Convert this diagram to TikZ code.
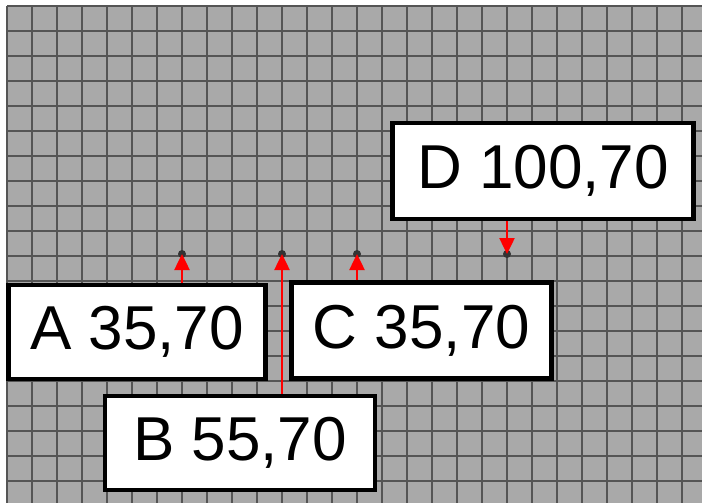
\documentclass[tikz,border=0pt]{standalone}
\usepackage{fontspec}
\setmainfont{Liberation Sans}
\usetikzlibrary{arrows.meta}
\definecolor{gridbg}{HTML}{A9A9A9}
\definecolor{gridline}{HTML}{555555}
\definecolor{pindot}{HTML}{333333}
\begin{document}
\begin{tikzpicture}[x=1pt,y=-1pt,
  gridrule/.style={draw=gridline, line width=2.5pt},
  labelbox/.style={draw=black, line width=4.5pt, fill=white, inner sep=0pt,
    font=\fontsize{62}{62}\selectfont},
  pin/.style={circle, fill=pindot, inner sep=0pt, minimum size=8pt},
  pointer/.style={draw=red, line width=2.5pt, -{Triangle[length=16pt,width=15pt]}}]
\useasboundingbox (0,0) rectangle (702,503);
\fill[white] (0,0) rectangle (702,503);

% grid background
\fill[gridbg] (7,6) rectangle (702,503);
\foreach \gx in {7,32,...,702} \draw[gridrule] (\gx,6) -- (\gx,503);
\foreach \gy in {6,31,...,503} \draw[gridrule] (7,\gy) -- (702,\gy);

% anchor points
\node[pin] (pa) at (182,254) {};
\node[pin] (pb) at (282,254) {};
\node[pin] (pc) at (357,254) {};
\node[pin] (pd) at (507,254) {};

% labels
\node[labelbox, minimum width=257pt, minimum height=94pt] (A) at (137,332) {A 35,70};
\node[labelbox, minimum width=270pt, minimum height=94pt] (B) at (240,443) {B 55,70};
\node[labelbox, minimum width=260pt, minimum height=96pt] (C) at (421.5,330.5) {C 35,70};
\node[labelbox, minimum width=301pt, minimum height=96pt] (D) at (543,171) {D 100,70};

% pointers
\draw[pointer] (pa |- A.north) -- (pa.center);
\draw[pointer] (pb |- B.north) -- (pb.center);
\draw[pointer] (pc |- C.north) -- (pc.center);
\draw[pointer] (pd |- D.south) -- (pd.center);
\end{tikzpicture}
\end{document}
